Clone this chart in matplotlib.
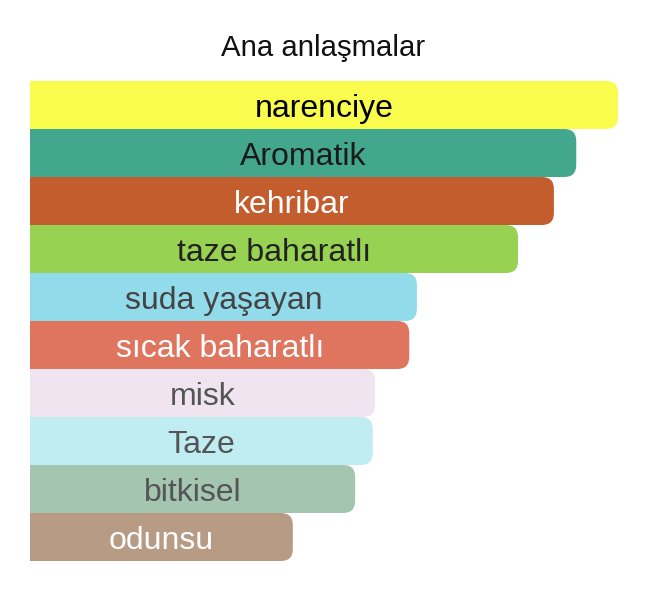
import matplotlib
matplotlib.use('Agg')
import matplotlib.pyplot as plt
from matplotlib.patches import FancyBboxPatch, Rectangle

# veriler
labels = ['narenciye', 'Aromatik', 'kehribar', 'taze baharatlı', 'suda yaşayan',
          'sıcak baharatlı', 'misk', 'Taze', 'bitkisel', 'odunsu']
values = [100, 92.9, 89.1, 83.0, 65.8, 64.5, 58.7, 58.3, 55.3, 44.7]
bar_colors = ['#F9FC4D', '#43A78E', '#C45D2D', '#97D252', '#92DBEA',
              '#E0755F', '#F0E4F1', '#C0EDF2', '#A4C6B1', '#B89B85']
text_colors = ['#000000', '#1a1a1a', '#ffffff', '#222222', '#444444',
               '#ffffff', '#555555', '#555555', '#555555', '#ffffff']

plt.rcParams['font.family'] = ['Liberation Sans', 'DejaVu Sans']

W, H = 646, 598
fig = plt.figure(figsize=(W / 100, H / 100), dpi=100)
ax = fig.add_axes([30 / W, (H - 561) / H, 588 / W, 480 / H])
ax.set_xlim(0, 100)
ax.set_ylim(len(labels) - 0.5, -0.5)
ax.axis('off')

# px -> data units
px_x = 100 / 588
px_y = len(labels) / 480
r = 12 * px_x
aspect = (12 * px_y) / r

for i, (lab, v) in enumerate(zip(labels, values)):
    y0 = i - 0.5
    box = FancyBboxPatch((0, y0), v, 1.0,
                         boxstyle='round,pad=0,rounding_size=%f' % r,
                         mutation_aspect=aspect, fc=bar_colors[i], ec='none')
    ax.add_patch(box)
    # left side square
    ax.add_patch(Rectangle((0, y0), v / 2, 1.0, fc=bar_colors[i], ec='none'))
    ax.text(v / 2, i + 0.08, lab, ha='center', va='center', fontsize=23,
            color=text_colors[i])

fig.text(0.5, 1 - 48 / H, 'Ana anlaşmalar', ha='center', va='center', fontsize=21.2,
         color='#111111')

fig.savefig('out.png', dpi=100, facecolor='white')
